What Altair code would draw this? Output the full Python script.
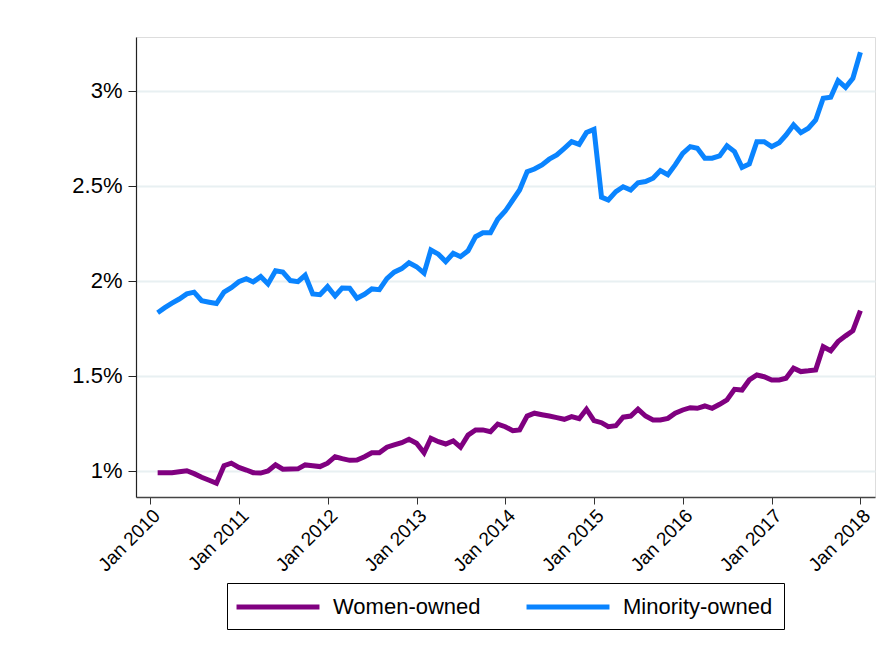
import altair as alt
import pandas as pd

# Monthly observations, Feb 2010 .. Jan 2018
months = [d.strftime("%Y-%m-01") for d in pd.date_range("2010-02-01", "2018-01-01", freq="MS")]

minority_owned = [
    1.833, 1.858, 1.883, 1.905, 1.932, 1.941, 1.896, 1.888, 1.881, 1.941, 1.965, 1.996,
    2.012, 1.995, 2.023, 1.984, 2.054, 2.047, 2.002, 1.996, 2.030, 1.932, 1.928, 1.970,
    1.921, 1.963, 1.962, 1.909, 1.930, 1.958, 1.954, 2.012, 2.046, 2.065, 2.096, 2.075,
    2.041, 2.163, 2.141, 2.102, 2.146, 2.128, 2.159, 2.233, 2.254, 2.254, 2.325, 2.368,
    2.426, 2.479, 2.575, 2.589, 2.611, 2.641, 2.663, 2.698, 2.733, 2.719, 2.781, 2.798,
    2.441, 2.426, 2.470, 2.496, 2.479, 2.517, 2.523, 2.541, 2.581, 2.559, 2.611, 2.672,
    2.707, 2.698, 2.646, 2.646, 2.658, 2.711, 2.681, 2.598, 2.616, 2.733, 2.733, 2.707,
    2.728, 2.768, 2.821, 2.781, 2.804, 2.847, 2.962, 2.967, 3.054, 3.019, 3.067, 3.204,
]

women_owned = [
    0.991, 0.991, 0.991, 0.996, 1.001, 0.986, 0.967, 0.951, 0.935, 1.028, 1.041, 1.019,
    1.005, 0.991, 0.989, 1.000, 1.032, 1.009, 1.010, 1.011, 1.032, 1.028, 1.023, 1.041,
    1.075, 1.065, 1.056, 1.058, 1.075, 1.096, 1.096, 1.125, 1.137, 1.149, 1.167, 1.146,
    1.096, 1.172, 1.154, 1.142, 1.158, 1.125, 1.189, 1.216, 1.216, 1.207, 1.247, 1.233,
    1.212, 1.216, 1.289, 1.304, 1.296, 1.289, 1.281, 1.272, 1.286, 1.275, 1.325, 1.265,
    1.254, 1.233, 1.238, 1.283, 1.289, 1.325, 1.289, 1.268, 1.268, 1.277, 1.304, 1.321,
    1.333, 1.330, 1.342, 1.330, 1.351, 1.374, 1.430, 1.426, 1.479, 1.505, 1.496, 1.479,
    1.479, 1.488, 1.541, 1.523, 1.527, 1.532, 1.654, 1.633, 1.681, 1.711, 1.738, 1.844,
]

series_names = ["Women-owned", "Minority-owned"]
series_colors = ["#800080", "#0A84FF"]
y_ticks = [1, 1.5, 2, 2.5, 3]
x_ticks = [f"{y}-01-01" for y in range(2010, 2019)]

df = pd.concat([
    pd.DataFrame({"date": months, "value": women_owned, "series": series_names[0]}),
    pd.DataFrame({"date": months, "value": minority_owned, "series": series_names[1]}),
])

FONT = "Liberation Sans"

chart = alt.Chart(df).mark_line(strokeWidth=5, strokeCap="butt").encode(
    x=alt.X(
        "date:T",
        scale=alt.Scale(domain=["2009-11-04", "2018-03-02"], nice=False),
        axis=alt.Axis(
            title=None,
            values=x_ticks,
            format="%b %Y",
            labelAngle=-45,
            labelAlign="right",
            labelBaseline="top",
            labelFontSize=19,
            labelFont=FONT,
            labelColor="#000000",
            labelPadding=2,
            tickSize=7,
            tickColor="#333333",
            domainColor="#444444",
            domainWidth=1.5,
            grid=False,
            labelOverlap=False,
        ),
    ),
    y=alt.Y(
        "value:Q",
        scale=alt.Scale(domain=[0.863, 3.284], nice=False, zero=False),
        axis=alt.Axis(
            title=None,
            values=y_ticks,
            labelExpr="datum.value + '%'",
            labelFontSize=22,
            labelFont=FONT,
            labelColor="#000000",
            labelPadding=6,
            tickSize=8,
            tickColor="#222222",
            domainColor="#222222",
            domainWidth=1.2,
            grid=True,
            gridColor="#e8f0f2",
            gridWidth=2,
        ),
    ),
    color=alt.Color(
        "series:N",
        scale=alt.Scale(domain=series_names, range=series_colors),
        sort=series_names,
        legend=alt.Legend(
            title=None,
            orient="none",
            legendX=91,
            legendY=546,
            direction="horizontal",
            symbolType="M-4,0H4",
            symbolSize=430,
            symbolStrokeWidth=5,
            symbolOffset=27,
            labelFontSize=22,
            labelFont=FONT,
            labelColor="#000000",
            labelOffset=42,
            columnPadding=35,
            padding=11,
            strokeColor="#000000",
            fillColor="#ffffff",
            labelLimit=400,
        ),
    ),
).properties(
    width=739,
    height=460,
    autosize=alt.AutoSizeParams(type="none"),
    padding={"left": 128, "top": 29, "right": 2, "bottom": 150},
).configure_view(stroke=None).configure(background="#ffffff")

chart.save("out.html", embed_options={"renderer": "svg", "actions": False})
